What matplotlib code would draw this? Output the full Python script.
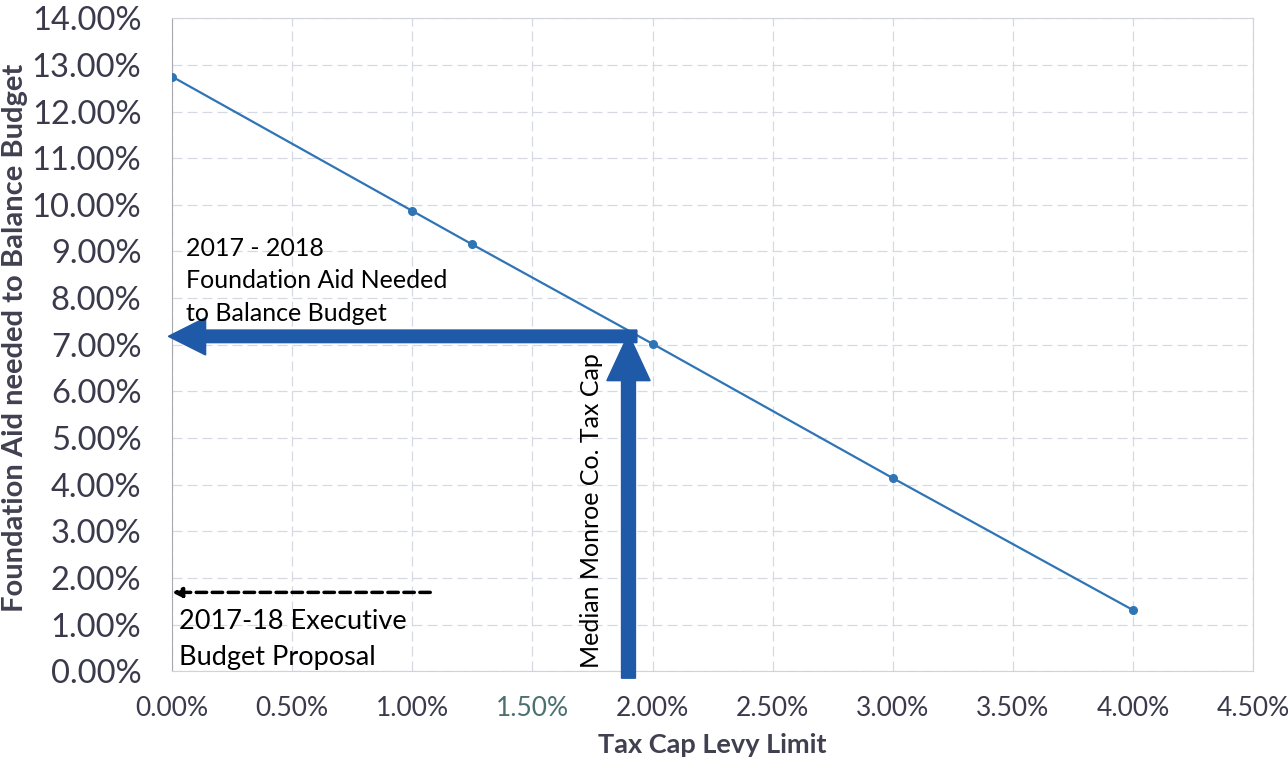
import matplotlib.pyplot as plt
from matplotlib.ticker import MultipleLocator, FuncFormatter
from matplotlib.patches import FancyArrow

# data (percent)
tax_cap = [0.0, 1.0, 1.25, 2.0, 3.0, 4.0]
aid_needed = [12.75, 9.87, 9.15, 7.02, 4.14, 1.31]

median_cap = 1.9
aid_at_median = 7.18
exec_proposal = 1.69

plt.rcParams['font.family'] = ['Lato', 'DejaVu Sans']

fig = plt.figure(figsize=(12.88, 7.61), dpi=100)
ax = fig.add_axes([0.1335, 0.118, 0.8395, 0.858])

ax.plot(tax_cap, aid_needed, color='#2f75b5', lw=1.6, marker='o', ms=5.5, zorder=3)

ax.set_xlim(0, 4.5)
ax.set_ylim(0, 14)
ax.xaxis.set_major_locator(MultipleLocator(0.5))
ax.yaxis.set_major_locator(MultipleLocator(1))
ax.xaxis.set_major_formatter(FuncFormatter(lambda v, p: '%.2f%%' % v))
ax.yaxis.set_major_formatter(FuncFormatter(lambda v, p: '%.2f%%' % v))

ax.grid(True, color='#d6d9e3', ls=(0, (8, 4)), lw=0.9)
for s in ax.spines.values():
    s.set_color('#d0d3dc')
ax.spines['left'].set_color('#a8a8b0')
ax.tick_params(length=0)
ax.tick_params(axis='y', labelsize=23.5, labelcolor='#3a3a4c', pad=22)
ax.tick_params(axis='x', labelsize=19, labelcolor='#3a3a4c', pad=18)

ax.set_xlabel('Tax Cap Levy Limit', fontsize=19.5, fontweight='bold', color='#404050')
ax.xaxis.set_label_coords(0.5, -0.094)
ax.set_ylabel('Foundation Aid needed to Balance Budget', fontsize=21, fontweight='bold',
              color='#404050')
ax.yaxis.set_label_coords(-0.133, 0.51)

arrow_c = '#1f5aa8'
# horizontal arrow to the y-axis
ax.add_patch(FancyArrow(median_cap + 0.035, aid_at_median, -(median_cap + 0.05), 0,
                        width=0.27, head_width=0.8, head_length=0.155,
                        length_includes_head=True, color=arrow_c, clip_on=False, zorder=4))
# vertical arrow up from the x-axis
ax.add_patch(FancyArrow(median_cap, -0.15, 0, aid_at_median + 0.2,
                        width=0.058, head_width=0.18, head_length=1.0,
                        length_includes_head=True, color=arrow_c, clip_on=False, zorder=4))

# dashed arrow for executive proposal
ax.annotate('', xy=(0.0, exec_proposal), xytext=(1.075, exec_proposal),
            arrowprops=dict(arrowstyle='-|>', color='black', lw=2.5, ls=(0, (3, 1.6)),
                            mutation_scale=14, shrinkA=0, shrinkB=0))

ax.text(0.06, 9.32, '2017 - 2018\nFoundation Aid Needed\nto Balance Budget', fontsize=18,
        va='top', ha='left', linespacing=1.5, color='black', zorder=5)
ax.text(0.03, 1.33, '2017-18 Executive\nBudget Proposal', fontsize=19.5,
        va='top', ha='left', linespacing=1.55, color='black')
ax.text(1.745, 3.45, 'Median Monroe Co. Tax Cap', fontsize=18, rotation=90,
        va='center', ha='center', color='black')

fig.canvas.draw()
for lab in ax.get_xticklabels():
    if lab.get_text() == '1.50%':
        lab.set_color('#4a7070')

fig.savefig('out.png', dpi=100)
